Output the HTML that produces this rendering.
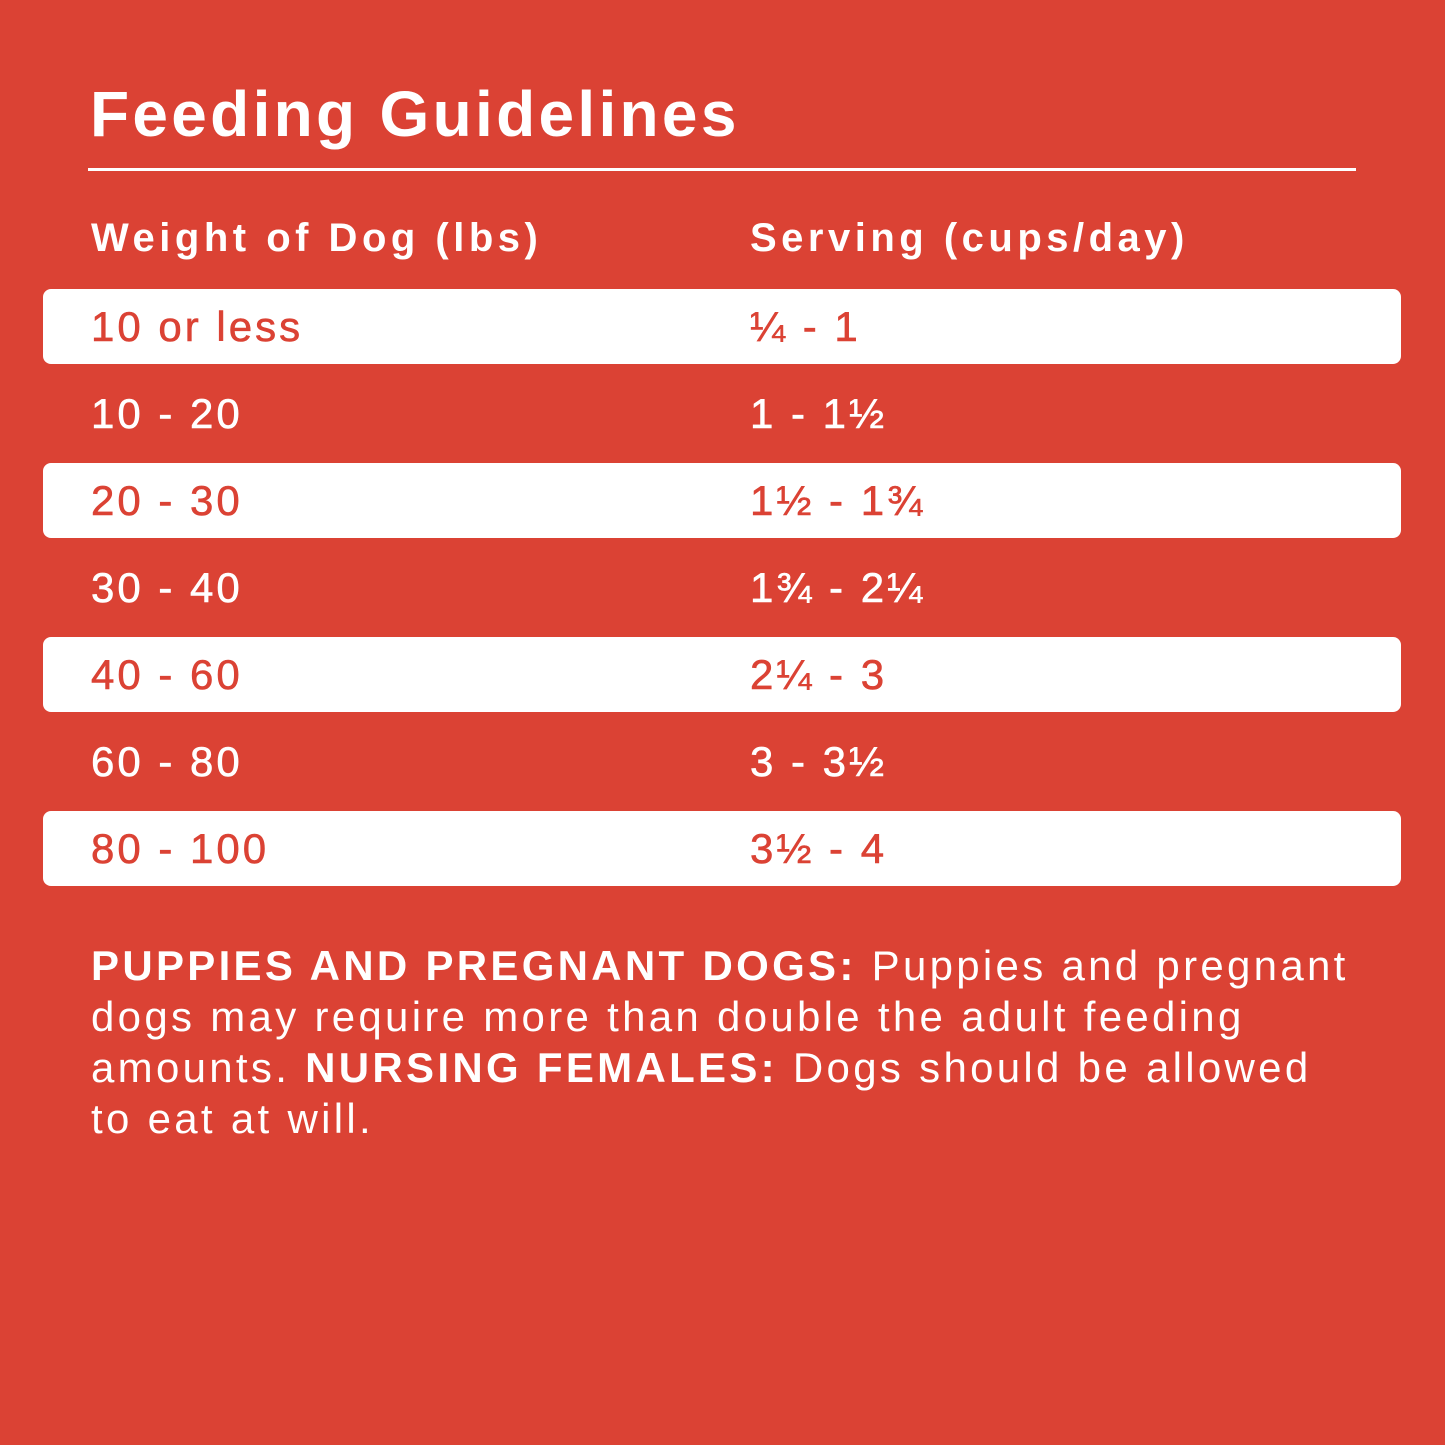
<!DOCTYPE html>
<html><head><meta charset="utf-8"><style>
html,body{margin:0;padding:0}
body{width:1445px;height:1445px;background:#DB4234;position:relative;overflow:hidden;font-family:"Liberation Sans",sans-serif;color:#fff}
.t{position:absolute;white-space:nowrap}
.title{left:90px;top:76px;font-size:64px;font-weight:bold;line-height:76px;letter-spacing:3.3px}
.rule{position:absolute;left:88px;top:168px;width:1268px;height:3px;background:#fff}
.hd{top:214px;font-size:40px;font-weight:bold;line-height:48px;letter-spacing:4.5px}
.bar{position:absolute;left:43px;width:1358px;height:75px;background:#fff;border-radius:8px}
.r{font-size:42px;line-height:50px;letter-spacing:3px;-webkit-text-stroke:0.6px currentColor}
.red{color:#DB4234}
.p{left:91px;top:940px;font-size:42px;line-height:51px;letter-spacing:3.3px}
</style></head><body>
<div class="t title">Feeding Guidelines</div>
<div class="rule"></div>
<div class="t hd" style="left:91px">Weight of Dog (lbs)</div>
<div class="t hd" style="left:750px">Serving (cups/day)</div>
<div class="bar" style="top:289px"></div>
<div class="bar" style="top:463px"></div>
<div class="bar" style="top:637px"></div>
<div class="bar" style="top:811px"></div>
<div class="t r red" style="left:91px;top:302px">10 or less</div><div class="t r red" style="left:750px;top:302px">¼ - 1</div>
<div class="t r" style="left:91px;top:389px">10 - 20</div><div class="t r" style="left:750px;top:389px">1 - 1½</div>
<div class="t r red" style="left:91px;top:476px">20 - 30</div><div class="t r red" style="left:750px;top:476px">1½ - 1¾</div>
<div class="t r" style="left:91px;top:563px">30 - 40</div><div class="t r" style="left:750px;top:563px">1¾ - 2¼</div>
<div class="t r red" style="left:91px;top:650px">40 - 60</div><div class="t r red" style="left:750px;top:650px">2¼ - 3</div>
<div class="t r" style="left:91px;top:737px">60 - 80</div><div class="t r" style="left:750px;top:737px">3 - 3½</div>
<div class="t r red" style="left:91px;top:824px">80 - 100</div><div class="t r red" style="left:750px;top:824px">3½ - 4</div>
<div class="t p"><b>PUPPIES AND PREGNANT DOGS:</b> Puppies and pregnant<br>dogs may require more than double the adult feeding<br>amounts. <b>NURSING FEMALES:</b> Dogs should be allowed<br>to eat at will.</div>
</body></html>
